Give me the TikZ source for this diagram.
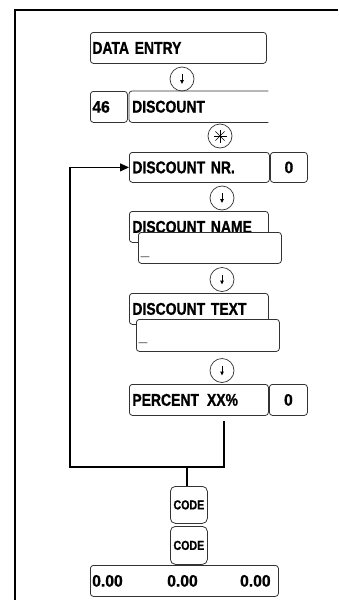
\documentclass[tikz,border=0pt]{standalone}
\usepackage{fontspec}
\setmainfont{Liberation Sans}[FakeStretch=0.82, BoldFont={Liberation Sans Bold}, BoldFeatures={FakeBold=1}]
\newfontfamily\numfont{Liberation Sans}[FakeStretch=0.95, BoldFont={Liberation Sans Bold}, BoldFeatures={FakeBold=1}]
\usetikzlibrary{arrows.meta,calc}
\begin{document}
\begin{tikzpicture}[x=1pt,y=-1pt,
  lbl/.style={font=\bfseries\fontsize{17}{19}\selectfont},
  numlbl/.style={font=\numfont\bfseries\fontsize{16.5}{19}\selectfont},
  bx/.style={draw=black!80, line width=0.8pt, rounded corners=3pt, anchor=north west,
             inner sep=0pt, align=left, lbl},
  cbx/.style={bx, align=center},
  boxline/.style={draw=black!80, line width=0.8pt, rounded corners=3pt},
  circ/.style={draw=black!80, circle, line width=0.7pt, minimum size=24pt, inner sep=0pt},
  conn/.style={draw=black, line width=1.1pt},
  tip/.style={-{Triangle[length=9pt,width=8pt]}},
  smalltip/.style={line width=1pt, -{Triangle[length=4pt,width=3.5pt]}},
  cursor/.style={inner sep=0pt, text=black!55, font=\numfont\fontsize{16}{18}\selectfont},
  keylbl/.style={font=\bfseries\fontsize{13}{15}\selectfont}
]
\useasboundingbox (0,0) rectangle (338,600);
% outer frame
\draw[line width=1.3pt] (15,600) -- (15,10) -- (338,10);

% DATA ENTRY
\node[bx, minimum width=176pt, minimum height=31pt, text width=172pt] (de) at (90,32) {DATA ENTRY};
\node[circ] (c1) at (182,79) {};

% 46 DISCOUNT
\node[bx, numlbl, minimum width=37pt, minimum height=31pt, text width=33pt] (n46) at (90,91) {46};
\node[anchor=north west, inner sep=0pt, align=left, lbl, minimum width=139pt, minimum height=31pt, text width=133pt] (disc) at (129,91) {DISCOUNT};
\draw[boxline] (disc.north east) -- (disc.north west) -- (disc.south west) -- (disc.south east);
\node[circ] (c2) at (220,136) {};

% DISCOUNT NR.
\node[bx, minimum width=140pt, minimum height=30pt, text width=134pt] (dnr) at (129,152) {DISCOUNT NR.};
\node[cbx, numlbl, minimum width=37pt, minimum height=30pt, text width=33pt] (z1) at (270,152) {0};
\node[circ] (c3) at (222,198) {};

% DISCOUNT NAME
\node[bx, minimum width=139pt, minimum height=31pt, text width=133pt] (dname) at (129,211) {DISCOUNT NAME};
\node[bx, fill=white, minimum width=143pt, minimum height=31pt, text width=139pt] (iname) at (138,232) {};
\node[cursor] (cur1) at (145,256) {\_};
\node[circ] (c4) at (222,279.5) {};

% DISCOUNT TEXT
\node[bx, minimum width=139pt, minimum height=31pt, text width=133pt] (dtext) at (129,293) {DISCOUNT TEXT};
\node[bx, fill=white, minimum width=143pt, minimum height=32pt, text width=139pt] (itext) at (136,319) {};
\node[cursor] (cur2) at (143,342) {\_};
\node[circ] (c5) at (222,370.5) {};

% PERCENT
\node[bx, minimum width=139pt, minimum height=31pt, text width=133pt] (pct) at (129,384) {PERCENT\hspace{8pt}XX\%};
\node[cbx, numlbl, minimum width=38pt, minimum height=31pt, text width=34pt] (z2) at (269,384) {0};

% arrows in circles
\foreach \n in {c1,c3,c4,c5}
  \draw[smalltip] ($(\n)+(0,-5)$) -- ($(\n)+(0,5)$);
% asterisk
\foreach \a in {0,45,90,135}
  \draw[line width=0.6pt] ($(c2)+(\a:6.5)$) -- ($(c2)+(\a+180:6.5)$);

% loop connector
\coordinate (pb) at (224,421);
\coordinate (lc) at (70,467);
\draw[conn, tip] (pb) |- (lc) |- (dnr.west);

% CODE keys
\node[cbx, keylbl, minimum width=37pt, minimum height=37pt, text width=35pt, rounded corners=5pt] (code1) at (170,486) {CODE};
\node[cbx, keylbl, minimum width=37pt, minimum height=38pt, text width=35pt, rounded corners=5pt] (code2) at (170,526) {CODE};
\coordinate (bj) at (187,467);
\draw[conn] (bj) -- (bj |- code1.north);

% totals
\node[bx, minimum width=188pt, minimum height=31pt, text width=184pt] (tot) at (90,565) {};
\node[numlbl, anchor=west, inner sep=0pt] (t1) at ($(tot.west)+(2,0)$) {0.00};
\node[numlbl, anchor=west, inner sep=0pt] (t2) at ($(tot.west)+(77,0)$) {0.00};
\node[numlbl, anchor=east, inner sep=0pt] (t3) at ($(tot.east)+(-8,0)$) {0.00};
\end{tikzpicture}
\end{document}
